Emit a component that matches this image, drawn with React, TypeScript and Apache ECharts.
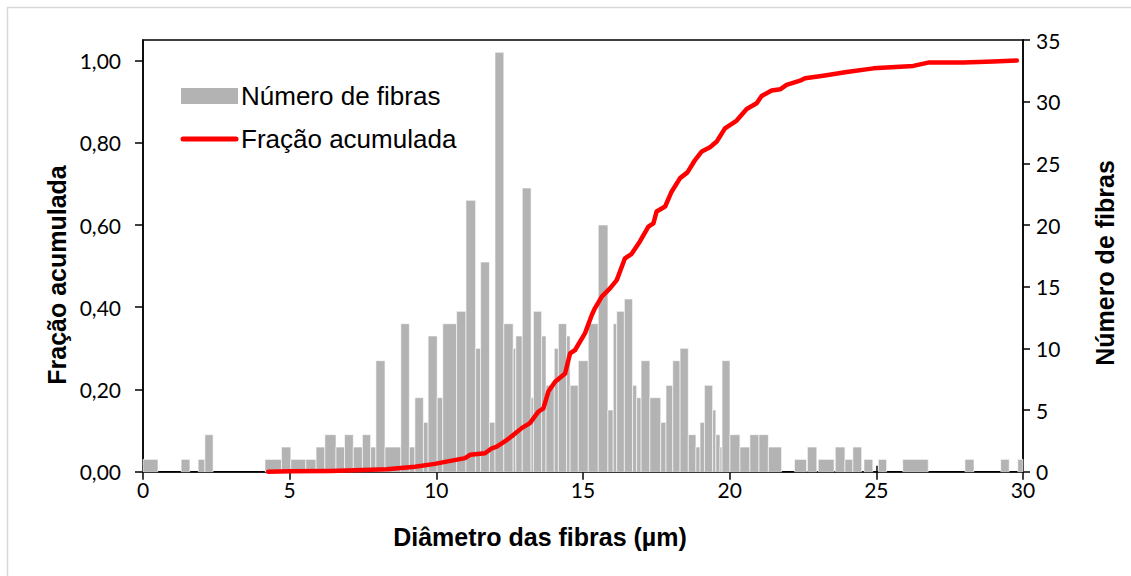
import React, { useEffect, useRef } from "react";
import * as echarts from "echarts";

// Histogram of fibre diameters: each bar spans [binStart, binEnd] µm with fiberCount fibres
const binStart = [
  0.0, 1.3, 1.88, 2.11, 4.16, 4.72, 5.04, 5.55, 5.9, 6.2, 6.58, 6.87, 7.17, 7.48, 7.76, 7.94,
  8.25, 8.79, 9.08, 9.27, 9.56, 9.72, 10.03, 10.22, 10.69, 11.01, 11.34, 11.51, 11.81, 12.0,
  12.3, 12.62, 12.71, 12.93, 13.23, 13.31, 13.59, 13.74, 14.02, 14.16, 14.44, 14.56, 14.84,
  15.18, 15.52, 15.85, 16.03, 16.15, 16.41, 16.69, 16.83, 16.98, 17.28, 17.65, 17.83, 18.06,
  18.31, 18.59, 18.85, 18.99, 19.14, 19.42, 19.53, 19.67, 19.74, 20.01, 20.35, 20.69, 21.0,
  21.32, 22.21, 22.65, 23.02, 23.6, 23.93, 24.2, 24.58, 25.07, 25.9, 28.02, 29.24, 29.82,
];
const binEnd = [
  0.51, 1.6, 2.11, 2.39, 4.72, 5.04, 5.55, 5.9, 6.2, 6.58, 6.87, 7.17, 7.48, 7.76, 7.94, 8.25,
  8.79, 9.08, 9.27, 9.56, 9.72, 10.03, 10.22, 10.69, 11.01, 11.34, 11.51, 11.81, 12.0, 12.3,
  12.62, 12.71, 12.93, 13.23, 13.31, 13.59, 13.74, 14.02, 14.16, 14.44, 14.56, 14.84, 15.18,
  15.52, 15.85, 16.03, 16.15, 16.41, 16.69, 16.83, 16.98, 17.28, 17.65, 17.83, 18.06, 18.31,
  18.59, 18.85, 18.99, 19.14, 19.42, 19.53, 19.67, 19.74, 20.01, 20.35, 20.69, 21.0, 21.32,
  21.77, 22.62, 22.97, 23.56, 23.93, 24.2, 24.5, 24.88, 25.35, 26.77, 28.33, 29.53, 30.0,
];
const fiberCount = [
  1, 1, 1, 3, 1, 2, 1, 1, 2, 3, 2, 3, 2, 3, 2, 9,
  2, 12, 2, 6, 4, 11, 6, 12, 13, 22, 10, 17, 4, 34,
  12, 10, 11, 23, 6, 13, 11, 7, 10, 12, 11, 7, 9,
  12, 20, 5, 12, 13, 14, 7, 6, 9, 6, 4, 7, 9,
  10, 3, 2, 4, 7, 5, 3, 2, 9, 3, 2, 3, 3,
  2, 1, 2, 1, 2, 1, 2, 1, 1, 1, 1, 1, 1,
];

// Cumulative fraction curve
const curveDiameter = [
  4.27, 5.01, 6.38, 8.31, 9.27, 9.95, 10.3, 10.98, 11.15, 11.66, 11.89, 12.06, 12.4, 12.62,
  12.91, 13.19, 13.48, 13.65, 13.82, 14.05, 14.39, 14.56, 14.73, 15.07, 15.3, 15.41, 15.64,
  15.92, 16.15, 16.43, 16.66, 16.94, 17.23, 17.4, 17.51, 17.8, 18.02, 18.31, 18.56, 18.82,
  19.05, 19.33, 19.56, 19.84, 20.24, 20.58, 20.92, 21.09, 21.43, 21.72, 21.94, 22.4, 22.57,
  23.19, 23.99, 24.9, 26.26, 26.77, 27.96, 28.99, 29.79,
];
const curveFraction = [
  0.0, 0.001, 0.002, 0.006, 0.012, 0.019, 0.024, 0.033, 0.041, 0.045, 0.057, 0.061, 0.077, 0.089,
  0.106, 0.118, 0.146, 0.154, 0.195, 0.219, 0.239, 0.288, 0.296, 0.337, 0.381, 0.398, 0.426,
  0.446, 0.466, 0.519, 0.53, 0.56, 0.596, 0.604, 0.633, 0.645, 0.681, 0.714, 0.728, 0.758,
  0.779, 0.789, 0.803, 0.835, 0.854, 0.882, 0.896, 0.914, 0.927, 0.93, 0.941, 0.951, 0.957,
  0.963, 0.972, 0.981, 0.987, 0.995, 0.995, 0.998, 1.0,
];

const fractionTicks = [0, 0.2, 0.4, 0.6, 0.8, 1.0];

const BAR_GRAY = "#b3b3b3";
const RED = "#ff0000";
const TICK_FONT = "Lato";
const TEXT_FONT = '"Liberation Sans", Arial, sans-serif';

export default function App() {
  const ref = useRef<HTMLDivElement>(null);

  useEffect(() => {
    if (!ref.current) return;
    const chart = echarts.init(ref.current, null, { renderer: "svg" });

    const histData = binStart.map((s, i) => [s, binEnd[i], fiberCount[i]]);
    const curveData = curveDiameter.map((d, i) => [d, curveFraction[i]]);

    const axisLine = () => ({ show: true, onZero: false, lineStyle: { color: "#000", width: 1.5 } });
    const tickStyle = { color: "#000", width: 1.5 };
    const labelStyle = { color: "#000", fontFamily: TICK_FONT, fontSize: 21 };

    chart.setOption({
      animation: false,
      backgroundColor: "#fff",
      grid: {
        left: 143,
        top: 40,
        width: 880,
        height: 431.7,
        show: true,
        borderColor: "#000",
        borderWidth: 1.5,
        backgroundColor: "transparent",
      },
      xAxis: [
        {
          type: "value",
          min: 0,
          max: 30,
          interval: 5,
          position: "bottom",
          axisLine: axisLine(),
          axisTick: { show: true, length: 8, lineStyle: tickStyle },
          axisLabel: { ...labelStyle, margin: 7 },
          splitLine: { show: false },
        },
        {
          // inward half of the crossing ticks on the diameter axis
          type: "value",
          min: 0,
          max: 30,
          interval: 5,
          position: "bottom",
          axisLine: { show: false, onZero: false },
          axisTick: { show: true, inside: true, length: 6, lineStyle: tickStyle },
          axisLabel: { show: false },
          splitLine: { show: false },
        },
      ],
      yAxis: [
        {
          type: "value",
          min: 0,
          max: 1.05,
          position: "left",
          axisLine: axisLine(),
          axisTick: { show: true, length: 8, lineStyle: tickStyle, customValues: fractionTicks },
          axisLabel: {
            ...labelStyle,
            margin: 22,
            customValues: fractionTicks,
            formatter: (v: number) => v.toFixed(2).replace(".", ","),
          },
          splitLine: { show: false },
        },
        {
          type: "value",
          min: 0,
          max: 35,
          interval: 5,
          position: "right",
          axisLine: axisLine(),
          axisTick: { show: true, length: 7, lineStyle: tickStyle },
          axisLabel: { ...labelStyle, margin: 13 },
          splitLine: { show: false },
        },
      ],
      series: [
        {
          type: "custom",
          name: "Número de fibras",
          xAxisIndex: 0,
          yAxisIndex: 1,
          data: histData,
          encode: { x: [0, 1], y: 2 },
          z: 2,
          renderItem: (params: any, api: any) => {
            const p0 = api.coord([api.value(0), api.value(2)]);
            const p1 = api.coord([api.value(1), 0]);
            return {
              type: "rect",
              shape: { x: p0[0], y: p0[1], width: p1[0] - p0[0], height: p1[1] - p0[1] },
              style: { fill: BAR_GRAY, stroke: "#ffffff", lineWidth: 0.6 },
            };
          },
        },
        {
          type: "line",
          name: "Fração acumulada",
          xAxisIndex: 0,
          yAxisIndex: 0,
          data: curveData,
          showSymbol: false,
          symbol: "none",
          z: 4,
          lineStyle: { color: RED, width: 4.5, cap: "round", join: "round" },
        },
      ],
      graphic: [
        // chart-area frame
        {
          type: "rect",
          shape: { x: 7.5, y: 7.5, width: 1140, height: 600 },
          style: { fill: "none", stroke: "#d9d9d9", lineWidth: 1.5 },
          silent: true,
        },
        // legend
        {
          type: "rect",
          shape: { x: 181, y: 88, width: 57, height: 16 },
          style: { fill: BAR_GRAY },
        },
        {
          type: "text",
          x: 241,
          y: 96,
          style: {
            text: "Número de fibras",
            font: `26px ${TEXT_FONT}`,
            fill: "#000",
            textVerticalAlign: "middle",
            verticalAlign: "middle",
          },
        },
        {
          type: "line",
          shape: { x1: 183, y1: 139, x2: 236, y2: 139 },
          style: { stroke: RED, lineWidth: 5, lineCap: "round" },
        },
        {
          type: "text",
          x: 241,
          y: 139,
          style: {
            text: "Fração acumulada",
            font: `26px ${TEXT_FONT}`,
            fill: "#000",
            textVerticalAlign: "middle",
            verticalAlign: "middle",
          },
        },
        // axis titles
        {
          type: "text",
          x: 57,
          y: 275,
          rotation: Math.PI / 2,
          style: {
            text: "Fração acumulada",
            font: `bold 25px ${TEXT_FONT}`,
            fill: "#000",
            align: "center",
            verticalAlign: "middle",
          },
        },
        {
          type: "text",
          x: 1105,
          y: 263,
          rotation: Math.PI / 2,
          style: {
            text: "Número de fibras",
            font: `bold 25px ${TEXT_FONT}`,
            fill: "#000",
            align: "center",
            verticalAlign: "middle",
          },
        },
        {
          type: "text",
          x: 540,
          y: 537,
          style: {
            text: "Diâmetro das fibras (µm)",
            font: `bold 25px ${TEXT_FONT}`,
            fill: "#000",
            align: "center",
            verticalAlign: "middle",
          },
        },
      ],
    });

    return () => chart.dispose();
  }, []);

  return (
    <div
      ref={ref}
      style={{ position: "fixed", left: 0, top: 0, width: 1131, height: 576, background: "#fff" }}
    />
  );
}
